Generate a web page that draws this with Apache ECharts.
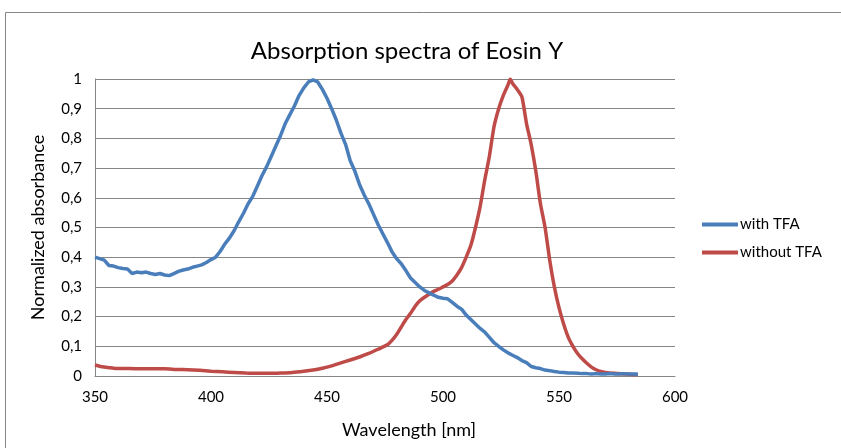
<!DOCTYPE html>
<html>
<head>
<meta charset="utf-8">
<script src="https://cdn.jsdelivr.net/npm/echarts@6/dist/echarts.min.js"></script>
<style>html,body{margin:0;padding:0;background:#fff}#c{width:841px;height:448px}</style>
</head>
<body>
<div id="c"></div>
<script>
const titleText = "Absorption spectra of Eosin Y";
const xAxisTitle = "Wavelength [nm]";
const yAxisTitle = "Normalized absorbance";
const seriesNames = ["with TFA", "without TFA"];
const xTicks = [350, 400, 450, 500, 550, 600];
const yTicks = [0, 0.1, 0.2, 0.3, 0.4, 0.5, 0.6, 0.7, 0.8, 0.9, 1];

const wlWith = [350,352,354,356,358,360,362,364,366,368,370,372,374,376,378,380,382,384,386,388,390,392,394,396,398,400,402,404,406,408,410,412,414,416,418,420,422,424,426,428,430,432,434,436,438,440,442,444,446,448,450,452,454,456,458,460,462,464,466,468,470,472,474,476,478,480,482,484,486,488,490,492,494,496,498,500,502,504,506,508,510,512,514,516,518,520,522,524,526,528,530,532,534,536,538,540,542,544,546,548,550,552,554,556,558,560,562,564,566,568,570,572,574,576,578,580,582,584];
const absWith = [0.40,0.395,0.39,0.372,0.37,0.365,0.362,0.36,0.345,0.35,0.348,0.35,0.345,0.342,0.345,0.34,0.338,0.345,0.352,0.357,0.36,0.366,0.37,0.374,0.382,0.392,0.40,0.42,0.445,0.465,0.49,0.52,0.548,0.58,0.605,0.64,0.675,0.705,0.74,0.775,0.81,0.85,0.88,0.91,0.945,0.97,0.99,0.997,0.99,0.965,0.935,0.90,0.862,0.818,0.78,0.725,0.69,0.645,0.61,0.58,0.545,0.51,0.48,0.45,0.418,0.395,0.378,0.355,0.33,0.315,0.30,0.288,0.28,0.272,0.265,0.262,0.26,0.248,0.235,0.225,0.205,0.19,0.175,0.16,0.148,0.13,0.112,0.10,0.088,0.078,0.07,0.062,0.052,0.045,0.032,0.028,0.025,0.02,0.018,0.015,0.013,0.012,0.01,0.01,0.009,0.008,0.008,0.007,0.008,0.007,0.007,0.008,0.007,0.007,0.008,0.007,0.007,0.006];

const wlWithout = [350,352,354,356,358,360,365,370,375,380,385,390,395,400,405,410,415,420,425,430,435,440,444,448,452,456,460,464,468,472,476,478,480,482,484,486,488,490,492,494,496,498,500,502,504,506,508,510,512,514,516,518,520,522,524,526,528,529,530,532,534,536,538,540,542,544,546,548,550,552,554,556,558,560,562,564,566,568,570,574,578,582,584];
const absWithout = [0.037,0.033,0.03,0.028,0.026,0.025,0.025,0.024,0.024,0.024,0.022,0.021,0.019,0.016,0.014,0.012,0.01,0.009,0.009,0.01,0.012,0.016,0.02,0.026,0.034,0.044,0.054,0.064,0.076,0.09,0.105,0.12,0.14,0.165,0.19,0.211,0.235,0.253,0.265,0.275,0.285,0.292,0.30,0.308,0.32,0.34,0.365,0.40,0.44,0.50,0.57,0.66,0.74,0.84,0.90,0.945,0.98,1.0,0.985,0.965,0.94,0.85,0.78,0.69,0.58,0.50,0.39,0.30,0.23,0.175,0.13,0.10,0.076,0.058,0.043,0.03,0.021,0.015,0.012,0.009,0.007,0.005,0.005];

const pairs = (xs, ys) => xs.map((x, i) => [x, ys[i]]);
const FONT = "Lato, 'Open Sans', sans-serif";

const chart = echarts.init(document.getElementById('c'), null, {renderer: 'canvas'});
chart.setOption({
  animation: false,
  backgroundColor: '#ffffff',
  textStyle: {fontFamily: FONT, color: '#000'},
  title: {
    text: titleText, left: 402, top: 34, textAlign: 'center',
    textStyle: {fontFamily: FONT, fontSize: 24, fontWeight: 'normal', color: '#000'}
  },
  grid: {left: 95, right: 166, top: 79, bottom: 72, containLabel: false},
  legend: {
    orient: 'vertical', left: 697, top: 212, itemGap: 13, itemWidth: 36, itemHeight: 16,
    icon: 'path://M0,6L36,6L36,10L0,10Z',
    textStyle: {fontFamily: FONT, fontSize: 15, color: '#000', padding: [0,0,0,-3]},
    data: seriesNames
  },
  xAxis: {
    type: 'value', min: 350, max: 600, interval: 50,
    axisLine: {show: true, lineStyle: {color: '#868686', width: 1}},
    axisTick: {show: false},
    splitLine: {show: false},
    axisLabel: {fontFamily: FONT, fontSize: 15, color: '#000', margin: 14,
      formatter: v => xTicks.includes(v) ? String(v) : ''}
  },
  yAxis: {
    type: 'value', min: 0, max: 1, interval: 0.1,
    name: yAxisTitle, nameLocation: 'middle', nameGap: 48,
    nameTextStyle: {fontFamily: FONT, fontSize: 18, color: '#000'},
    axisLine: {show: true, lineStyle: {color: '#868686', width: 1}},
    axisTick: {show: false},
    splitLine: {show: true, lineStyle: {color: '#868686', width: 1}},
    axisLabel: {fontFamily: FONT, fontSize: 15, color: '#000', margin: 13,
      formatter: v => {
        const t = yTicks.find(k => Math.abs(k - v) < 1e-9);
        return t === undefined ? '' : String(Math.round(t * 10) / 10).replace('.', ',');
      }}
  },
  graphic: [
    {type: 'line', shape: {x1: 5.5, y1: 12.5, x2: 841, y2: 12.5}, style: {stroke: '#868686', lineWidth: 1}},
    {type: 'line', shape: {x1: 5.5, y1: 12.5, x2: 5.5, y2: 448}, style: {stroke: '#868686', lineWidth: 1}},
    {type: 'text', style: {text: xAxisTitle, x: 409, y: 430, textAlign: 'center', textVerticalAlign: 'middle', font: '18px ' + FONT, fill: '#000'}}
  ],
  series: [
    {name: seriesNames[0], type: 'line', data: pairs(wlWith, absWith), showSymbol: false, smooth: false,
      lineStyle: {color: '#4A7EBB', width: 3.5}, itemStyle: {color: '#4A7EBB'}, z: 3},
    {name: seriesNames[1], type: 'line', data: pairs(wlWithout, absWithout), showSymbol: false, smooth: 0.2,
      lineStyle: {color: '#BE4B48', width: 3.5}, itemStyle: {color: '#BE4B48'}, z: 2}
  ]
});
</script>
</body>
</html>
